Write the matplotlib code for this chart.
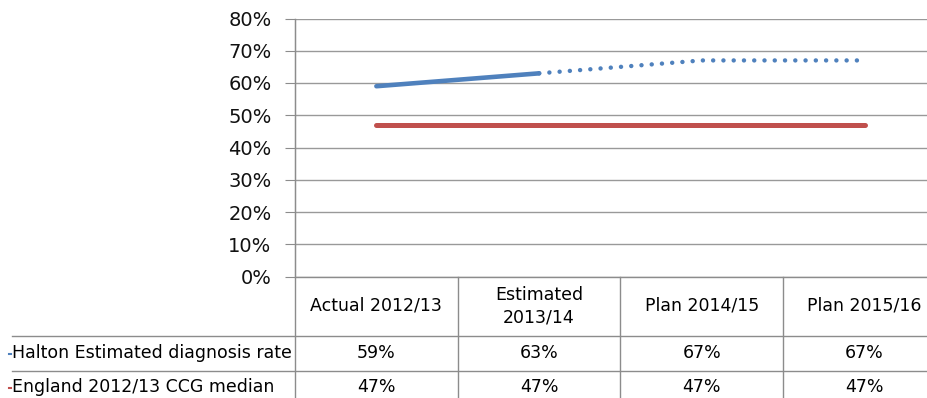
import matplotlib
matplotlib.use("Agg")
import matplotlib.pyplot as plt
import matplotlib.transforms as mtransforms
from matplotlib import font_manager

# data
categories = ["Actual 2012/13", "Estimated\n2013/14", "Plan 2014/15", "Plan 2015/16"]
halton = [59, 63, 67, 67]
england = [47, 47, 47, 47]
series_names = ["Halton Estimated diagnosis rate", "England 2012/13 CCG median"]
yticks = [0, 10, 20, 30, 40, 50, 60, 70, 80]

BLUE = "#4F81BD"
RED = "#C0504D"
GRID = "#8c8c8c"

installed = {f.name for f in font_manager.fontManager.ttflist}
narrow = "Liberation Sans Narrow" if "Liberation Sans Narrow" in installed else "DejaVu Sans"

W, H = 928, 398
fig = plt.figure(figsize=(W / 100, H / 100), dpi=100)

# plot area in pixels: left 295, right 946 (runs off the image), top 18.5, bottom 276.5
left, right, top, bottom = 295, 946, 18.5, 276.5
ax = fig.add_axes([left / W, (H - bottom) / H, (right - left) / W, (bottom - top) / H])
ax.set_xlim(0, len(categories))
ax.set_ylim(0, 80)

x = [i + 0.5 for i in range(len(categories))]
ax.plot(x[:2], halton[:2], color=BLUE, lw=3.3, solid_capstyle="round", zorder=3)
ax.plot(x[1:], halton[1:], color=BLUE, lw=3.2, linestyle=(0, (0.01, 2.3)),
        dash_capstyle="round", zorder=3)
ax.plot(x, england, color=RED, lw=3.6, solid_capstyle="round", zorder=3)

ax.set_yticks(yticks)
ax.set_yticklabels([f"{v}%" for v in yticks], fontsize=14, color="#111111")
ax.tick_params(axis="y", length=7, color=GRID, pad=10)
ax.set_xticks([])
ax.grid(axis="y", color="#999999", lw=1)
for s in ["top", "right", "bottom"]:
    ax.spines[s].set_visible(False)
ax.spines["left"].set_color(GRID)

# overlay axes in pixel coordinates for the data table
tab = fig.add_axes([0, 0, 1, 1], facecolor="none")
tab.set_xlim(0, W)
tab.set_ylim(H, 0)
tab.axis("off")

col_w = (right - left) / len(categories)
tab.plot([left, left], [top, H], color=GRID, lw=1)
for i in range(1, len(categories)):
    xc = left + i * col_w
    tab.plot([xc, xc], [bottom, H], color=GRID, lw=1)
tab.plot([left, W], [bottom, bottom], color=GRID, lw=1)
row_lines = [336, 371]
for yl in row_lines:
    tab.plot([12, W], [yl, yl], color=GRID, lw=1)

# column headers and values, x taken from the chart's data scale
blend = mtransforms.blended_transform_factory(ax.transData, tab.transData)
tfont = dict(family=[narrow, "DejaVu Sans"], fontsize=12.5, color="#000000")
for xi, cat, h, e in zip(x, categories, halton, england):
    ax.text(xi, 306, cat, transform=blend, ha="center", va="center",
            linespacing=1.3, clip_on=False, **tfont)
    ax.text(xi, 353.5, f"{h}%", transform=blend, ha="center", va="center",
            clip_on=False, **tfont)
    ax.text(xi, 387.5, f"{e}%", transform=blend, ha="center", va="center",
            clip_on=False, **tfont)

# row labels with small legend keys
for yr, name, col in zip([353.5, 387.5], series_names, [BLUE, RED]):
    tab.plot([9.5, 11.5], [yr, yr], color=col, lw=1.5)
    tab.text(12, yr, name, ha="left", va="center", **tfont)

fig.savefig("out.png", dpi=100)
